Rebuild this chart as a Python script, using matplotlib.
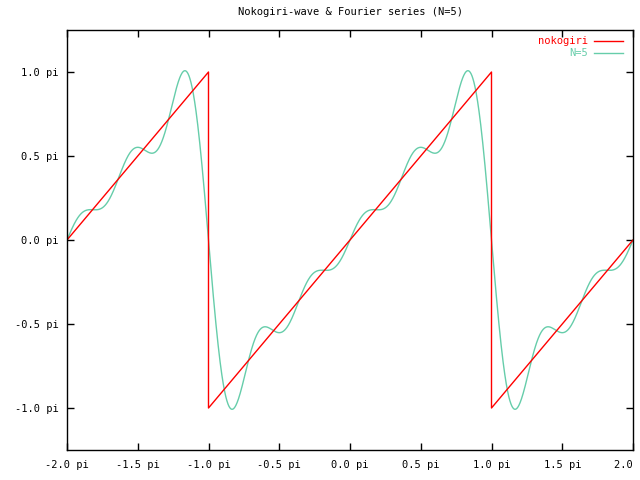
import numpy as np
import matplotlib
matplotlib.use('Agg')
import matplotlib.pyplot as plt

# sawtooth corners (units of pi)
saw_x = [-2.0, -1.0, -1.0, 1.0, 1.0, 2.0]
saw_y = [0.0, 1.0, -1.0, 1.0, -1.0, 0.0]

# Fourier sine coefficients b_n for n = 1..5
fourier_b = [2.0, -1.0, 2.0 / 3.0, -0.5, 0.4]

xticks = [-2.0, -1.5, -1.0, -0.5, 0.0, 0.5, 1.0, 1.5, 2.0]
yticks = [-1.0, -0.5, 0.0, 0.5, 1.0]

red = '#ff0000'
teal = '#66cdaa'
fs = 7.5
mono = 'DejaVu Sans Mono'

xs = np.linspace(-2.0, 2.0, 2001)
fy = sum(b * np.sin((n + 1) * xs * np.pi) for n, b in enumerate(fourier_b)) / np.pi

fig = plt.figure(figsize=(6.4, 4.8), dpi=100)
ax = fig.add_axes([67 / 640, 30 / 480, 566 / 640, 420 / 480])

ax.plot(xs, fy, color=teal, lw=1.0)
ax.plot(saw_x, saw_y, color=red, lw=1.0)

ax.set_xlim(-2.0, 2.0)
ax.set_ylim(-1.25, 1.25)
ax.set_xticks(xticks)
ax.set_yticks(yticks)
ax.set_xticklabels([f'{v:.1f} pi' for v in xticks], family=mono, fontsize=fs)
ax.set_yticklabels([f'{v:.1f} pi' for v in yticks], family=mono, fontsize=fs)
ax.tick_params(direction='in', length=5, width=1, top=True, right=True)
ax.tick_params(axis='x', pad=7)
ax.tick_params(axis='y', pad=6)
for s in ax.spines.values():
    s.set_linewidth(1)

ax.set_title('Nokogiri-wave & Fourier series (N=5)', family=mono, fontsize=fs, pad=11)

# legend drawn by hand, gnuplot style
for i, (lab, col) in enumerate([('nokogiri', red), ('N=5', teal)]):
    yy = 1 - (11 + 12 * i) / 420
    ax.text(1 - 45 / 566, yy, lab, color=col, family=mono, fontsize=fs,
            ha='right', va='center', transform=ax.transAxes)
    ax.plot([1 - 39 / 566, 1 - 10 / 566], [yy, yy], color=col, lw=1.0,
            transform=ax.transAxes)

fig.savefig('out.png', dpi=100)
